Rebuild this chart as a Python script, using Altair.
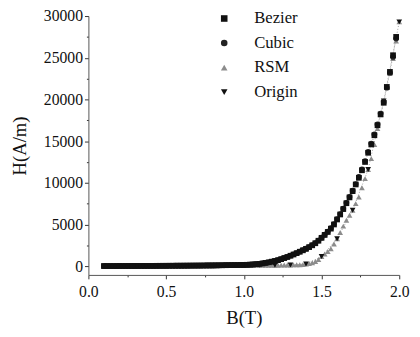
import altair as alt
import pandas as pd

# ---- data ----
series_names = ["Bezier", "Cubic", "RSM", "Origin"]

# Bezier, B = 0.10 .. 1.98 step 0.02
bezier_h = [12, 14, 15, 17, 18, 20, 21, 23, 25, 26, 28, 30, 31, 33, 35, 37, 39, 41, 43, 45,
            47, 50, 52, 55, 57, 60, 63, 66, 69, 72, 75, 79, 83, 87, 91, 95, 100, 105, 110, 116,
            122, 128, 134, 141, 148,
            150, 165, 185, 210, 240, 280, 330, 390, 460, 540,
            620, 720, 840, 970, 1100, 1250, 1400, 1560, 1730, 1900,
            2080, 2280, 2500, 2750, 3050, 3400, 3750, 4100, 4500, 5000,
            5600, 6200, 6850, 7550, 8250, 9000, 9800, 10600, 11500, 12500,
            13600, 14600, 15700, 16900, 18200, 19600, 21500, 23300, 25300, 27500]

# Cubic, B = 0.10 .. 1.98 step 0.02
cubic_h = [10, 13, 15, 16, 18, 19, 21, 22, 24, 26, 27, 29, 31, 33, 34, 36, 38, 40, 42, 44,
           47, 49, 51, 54, 56, 59, 62, 65, 68, 71, 74, 78, 82, 86, 90, 94, 99, 104, 109, 115,
           121, 127, 133, 140, 147,
           155, 170, 190, 215, 250, 290, 340, 400, 470, 550,
           640, 740, 860, 990, 1120, 1270, 1420, 1580, 1750, 1920,
           2100, 2300, 2520, 2780, 3080, 3420, 3780, 4150, 4560, 5050,
           5650, 6250, 6900, 7600, 8300, 9050, 9850, 10700, 11600, 12600,
           13700, 14700, 15800, 17000, 18300, 19700, 21400, 23200, 25100, 27300]

# RSM, B = 0.10 .. 2.00 step 0.02
rsm_h = [15, 16, 17, 18, 19, 20, 21, 22, 23, 24, 25, 26, 27, 28, 29, 30, 31, 32, 33, 34,
         35, 36, 38, 39, 40, 42, 43, 45, 46, 48, 50, 52, 54, 56, 58, 60, 62, 64, 66, 68,
         70, 72, 74, 77, 80,
         83, 86, 89, 92, 95, 98, 102, 106, 110, 114,
         118, 122, 127, 132, 138, 145, 153, 162, 172, 185,
         250, 320, 420, 560, 800, 1150, 1450, 1750, 2100, 2650,
         3300, 4050, 4800, 5500, 6100, 6700, 7500, 8300, 9400, 10500,
         11600, 12900, 14600, 16500, 18200, 19800, 21500, 23100, 24900, 27000,
         29300]

# Origin (measured), B = 0.1 .. 2.0 step 0.1
origin_h = [15, 20, 25, 30, 35, 40, 45, 50, 60, 70,
            100, 120, 150, 250, 1150, 3300, 6700, 11600, 19800, 29300]

bezier_b = [round(0.10 + 0.02 * i, 2) for i in range(len(bezier_h))]
cubic_b = [round(0.10 + 0.02 * i, 2) for i in range(len(cubic_h))]
rsm_b = [round(0.10 + 0.02 * i, 2) for i in range(len(rsm_h))]
origin_b = [round(0.1 + 0.1 * i, 1) for i in range(len(origin_h))]

y_ticks = [0, 2500, 5000, 7500, 10000, 12500, 15000, 17500, 20000, 22500, 25000, 27500, 30000]
x_ticks = [0.0, 0.25, 0.5, 0.75, 1.0, 1.25, 1.5, 1.75, 2.0]

df = pd.concat([
    pd.DataFrame({"series": "RSM", "B": rsm_b, "H": rsm_h, "o": 0}),
    pd.DataFrame({"series": "Origin", "B": origin_b, "H": origin_h, "o": 1}),
    pd.DataFrame({"series": "Cubic", "B": cubic_b, "H": cubic_h, "o": 2}),
    pd.DataFrame({"series": "Bezier", "B": bezier_b, "H": bezier_h, "o": 3}),
], ignore_index=True)

FONT = "Liberation Serif"

x_enc = alt.X("B:Q", title="B(T)",
              scale=alt.Scale(domain=[0, 2.0], nice=False, zero=False),
              axis=alt.Axis(values=x_ticks,
                            labelExpr="(datum.value * 2) % 1 === 0 ? format(datum.value, '.1f') : ''",
                            tickSize={"condition": {"test": "(datum.value * 2) % 1 !== 0", "value": 2}, "value": 4},
                            grid=False, labelFontSize=16, titleFontSize=19,
                            labelPadding=5, titlePadding=10, labelFlush=False,
                            domainColor="#555", tickColor="#333",
                            labelColor="#111", titleColor="#111",
                            labelFont=FONT, titleFont=FONT,
                            titleFontWeight="normal"))
y_enc = alt.Y("H:Q", title="H(A/m)",
              scale=alt.Scale(domain=[-1050, 30000], nice=False, zero=False),
              axis=alt.Axis(values=y_ticks,
                            labelExpr="datum.value % 5000 === 0 ? datum.value : ''",
                            tickSize={"condition": {"test": "datum.value % 5000 !== 0", "value": 2}, "value": 4},
                            grid=False, labelFontSize=16, titleFontSize=19,
                            labelPadding=2, titlePadding=14,
                            domainColor="#555", tickColor="#333",
                            labelColor="#111", titleColor="#111",
                            labelFont=FONT, titleFont=FONT,
                            titleFontWeight="normal"))

legend = alt.Legend(title=None, orient="none", legendX=130, legendY=-6,
                    labelFontSize=17, labelFont=FONT, labelColor="#111",
                    symbolSize=45, rowPadding=7, labelOffset=22,
                    padding=0, symbolStrokeWidth=0)

lines = alt.Chart(df).transform_filter(
    alt.FieldOneOfPredicate(field="series", oneOf=["Bezier", "Origin"])
).mark_line(strokeWidth=0.8, strokeDash=[1, 2], color="#888").encode(
    x=x_enc, y=y_enc, detail="series:N"
)

points = alt.Chart(df).mark_point(filled=True, size=34, opacity=1).encode(
    x=x_enc, y=y_enc,
    shape=alt.Shape("series:N",
                    scale=alt.Scale(domain=series_names,
                                    range=["square", "circle", "triangle-up", "triangle-down"]),
                    legend=legend),
    color=alt.Color("series:N",
                    scale=alt.Scale(domain=series_names,
                                    range=["#111111", "#222222", "#8c8c8c", "#111111"]),
                    legend=legend),
    order=alt.Order("o:Q"),
)

chart = alt.layer(lines, points).properties(
    width=317, height=264,
    autosize=alt.AutoSizeParams(type="none"),
    padding={"left": 82, "top": 5, "right": 13, "bottom": 55},
).configure_view(stroke=None)

chart.save("out.html", embed_options={"renderer": "svg", "actions": False})
